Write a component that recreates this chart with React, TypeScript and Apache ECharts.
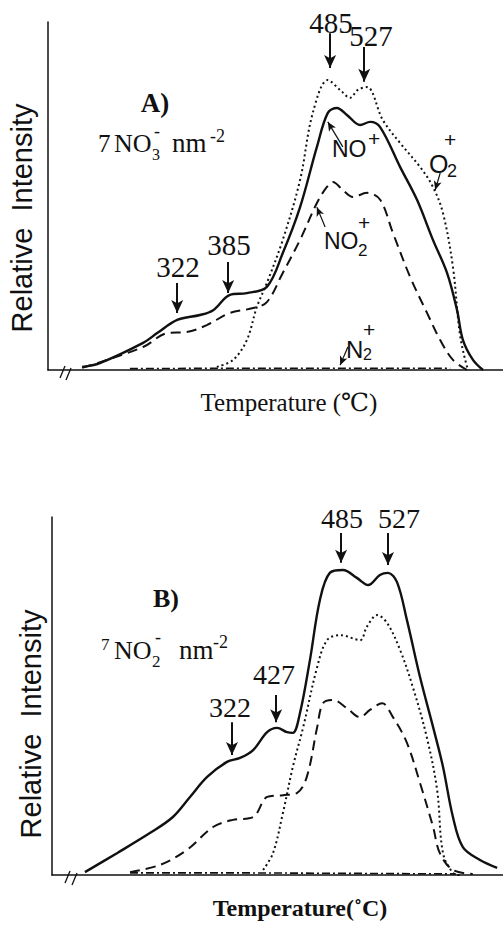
import React, { useEffect, useRef } from "react";
import * as echarts from "echarts";

// Panel A (7 NO3- nm-2): x = relative temperature position (0-100), y = relative intensity (0-100)
const aNO = [[7.5,0.9],[11.4,2.0],[20.9,7.8],[24.0,10.6],[28.4,14.4],[33.4,15.8],[36.3,17.2],[40.0,21.6],[43.7,22.1],[48.1,23.9],[51.6,33.6],[55.4,46.8],[59.1,64.1],[61.5,73.9],[63.5,75.3],[65.7,73.3],[68.6,70.4],[70.8,71.3],[73.0,69.8],[77.4,58.3],[81.1,48.9],[84.6,37.4],[87.7,27.9],[89.9,17.2],[91.2,8.6],[93.4,2.9],[95.6,0]];
const aNO2 = [[7.5,0.6],[20.9,6.6],[26.2,10.6],[30.5,10.9],[34.9,12.9],[40.0,16.4],[45.1,17.8],[48.1,19.5],[51.6,27.9],[55.4,37.4],[59.1,48.0],[61.3,52.6],[62.6,54.0],[64.8,51.7],[67.0,49.7],[70.1,50.9],[73.0,48.9],[75.8,39.4],[79.6,26.7],[83.3,16.4],[86.2,8.6],[89.0,2.9],[92.1,0]];
const aO2 = [[37.1,0.9],[40.7,2.9],[43.7,8.6],[45.9,18.1],[48.1,25.0],[51.6,37.4],[55.4,54.6],[58.2,73.9],[61.5,83.3],[64.2,80.5],[66.4,78.2],[68.1,80.5],[70.1,81.3],[73.6,71.8],[77.4,65.2],[81.8,58.3],[84.6,52.6],[86.8,45.1],[89.0,29.6],[90.5,10.6],[92.1,0.9],[92.7,0]];
const aN2 = [[18.0,0.4],[40.0,0.5],[60.0,0.5],[88.4,0.5]];

// Panel B (7 NO2- nm-2)
const bNO = [[7.3,0.8],[14.4,6.1],[21.7,11.7],[26.8,16.2],[30.6,21.8],[34.4,27.4],[38.8,31.6],[41.7,32.7],[44.6,34.9],[47.7,39.9],[49.9,41.1],[52.1,39.9],[53.4,39.7],[55.0,45.3],[57.2,60.1],[59.4,76.8],[61.6,84.4],[64.5,85.2],[67.6,83.0],[70.1,81.0],[72.7,83.8],[74.5,84.4],[76.5,81.8],[78.7,71.2],[81.6,55.3],[84.5,41.3],[86.7,30.2],[88.9,16.2],[91.1,7.8],[94.9,4.2],[98.7,2.0]];
const bNO2 = [[17.3,0.8],[23.9,2.8],[29.9,7.0],[35.7,13.4],[40.1,15.4],[44.6,16.2],[47.7,21.8],[51.2,22.3],[54.3,22.9],[56.5,27.4],[58.8,41.3],[60.1,48.0],[62.3,48.9],[65.4,46.6],[68.3,44.1],[70.5,46.1],[73.2,48.0],[75.6,44.1],[78.7,36.9],[81.6,25.7],[84.5,13.4],[86.0,6.1],[88.9,1.4],[93.3,0.3]];
const bO2 = [[46.8,1.4],[49.0,6.1],[51.2,17.3],[53.4,30.2],[55.7,41.3],[58.8,58.1],[61.0,65.6],[63.9,67.0],[68.3,65.6],[69.8,69.3],[72.1,72.6],[74.3,70.4],[77.2,62.8],[80.0,52.5],[83.1,38.5],[85.4,23.7],[86.7,6.1],[88.9,0.6],[90.5,0]];
const bN2 = [[17.3,0.6],[40.0,0.6],[60.0,0.5],[89.6,0.3]];

// Peak arrows: [x, yStart, yEnd]
const peakArrowsA = [[62.0,96.8,86.8],[69.5,92.8,82.8],[28.4,25.0,16.4],[39.6,31.0,22.1]];
const peakArrowsB = [[64.1,95.5,87.2],[74.5,95.5,86.6],[49.7,50.3,42.7],[39.9,42.7,33.5]];
// Species label pointer arrows: [x1, y1, x2, y2]
const labelArrowsA = [[64.8,64.1,61.5,71.3],[86.2,56.6,85.1,51.7],[60.9,41.1,59.1,46.8],[65.9,6.6,64.2,1.4]];

const peakLabelsA = ["485", "527", "322", "385"];
const peakLabelsB = ["485", "527", "427", "322"];

const SERIF = "'Liberation Serif', 'DejaVu Serif', serif";
const SANS = "'Liberation Sans', Arial, sans-serif";
const INK = "#111";

function txt(text: string, x: number, baseline: number, size: number, family = SERIF, extra: any = {}) {
  return {
    type: "text",
    x,
    y: baseline - size * 0.33,
    style: {
      text,
      fill: INK,
      font: `${extra.weight || "normal"} ${size}px ${family}`,
      align: extra.align || "left",
      verticalAlign: "middle",
    },
  };
}

function lineSeries(data: number[][], idx: number, type: any, width: number, extra: any = {}) {
  return {
    type: "line",
    data,
    xAxisIndex: idx,
    yAxisIndex: idx,
    smooth: 0.35,
    showSymbol: false,
    symbol: "none",
    silent: true,
    lineStyle: { color: INK, width, type },
    ...extra,
  };
}

function arrowMarks(peaks: number[][], labels: number[][] = []) {
  const data: any[] = [];
  peaks.forEach(([x, y1, y2]) => {
    data.push([{ coord: [x, y1], symbol: "none" }, { coord: [x, y2], symbol: "arrow", symbolSize: [9, 13] }]);
  });
  labels.forEach(([x1, y1, x2, y2]) => {
    data.push([
      { coord: [x1, y1], symbol: "none", lineStyle: { width: 1.2 } },
      { coord: [x2, y2], symbol: "arrow", symbolSize: [6, 9] },
    ]);
  });
  return {
    silent: true,
    symbol: ["none", "arrow"],
    label: { show: false },
    lineStyle: { color: INK, width: 2, type: "solid" },
    itemStyle: { color: INK },
    emphasis: { disabled: true },
    data,
  };
}

export default function App() {
  const ref = useRef<HTMLDivElement>(null);
  useEffect(() => {
    if (!ref.current) return;
    const chart = echarts.init(ref.current, undefined, { renderer: "svg" });
    const axisCommon = {
      type: "value",
      min: 0,
      max: 100,
      axisLine: { show: true, onZero: false, lineStyle: { color: INK, width: 1.5 } },
      axisTick: { show: false },
      axisLabel: { show: false },
      splitLine: { show: false },
    };
    const vLabel = (x: number, y: number) => ({
      type: "text",
      x,
      y,
      rotation: Math.PI / 2,
      style: { text: "Relative  Intensity", fill: INK, font: `normal 29px ${SANS}`, align: "center", verticalAlign: "middle" },
    });
    const graphic: any[] = [
      // Panel A texts
      txt(peakLabelsA[0], 331, 33, 29, SERIF, { align: "center" }),
      txt(peakLabelsA[1], 371, 46, 29, SERIF, { align: "center" }),
      txt(peakLabelsA[2], 178, 277, 29, SERIF, { align: "center" }),
      txt(peakLabelsA[3], 229, 255, 29, SERIF, { align: "center" }),
      txt("A)", 155, 112, 27, SERIF, { align: "center", weight: "bold" }),
      txt("7", 98, 152, 25),
      txt("NO", 114, 152, 26),
      txt("3", 152, 160, 16),
      txt("-", 154, 137, 18),
      txt("nm", 172, 152, 27),
      txt("-2", 210, 142, 18),
      txt("NO", 332, 157, 23, SANS),
      txt("+", 368, 145, 21, SANS),
      txt("O", 429, 172, 25, SANS),
      txt("2", 447, 177, 18, SANS),
      txt("+", 444, 146, 21, SANS),
      txt("NO", 324, 249, 23, SANS),
      txt("2", 358, 256, 17, SANS),
      txt("+", 358, 229, 21, SANS),
      txt("N", 346, 357, 24, SANS),
      txt("2", 363, 360, 16, SANS),
      txt("+", 363, 336, 21, SANS),
      vLabel(22, 218),
      txt("Temperature (℃)", 289, 411, 25, SERIF, { align: "center" }),
      { type: "line", shape: { x1: 60, y1: 378, x2: 65, y2: 366 }, style: { stroke: INK, lineWidth: 1.3 } },
      { type: "line", shape: { x1: 66, y1: 380, x2: 71, y2: 368 }, style: { stroke: INK, lineWidth: 1.3 } },
      // Panel B texts
      txt(peakLabelsB[0], 342, 528, 28, SERIF, { align: "center" }),
      txt(peakLabelsB[1], 399, 528, 28, SERIF, { align: "center" }),
      txt(peakLabelsB[2], 274, 684, 28, SERIF, { align: "center" }),
      txt(peakLabelsB[3], 230, 717, 28, SERIF, { align: "center" }),
      txt("B)", 166, 607, 26, SERIF, { align: "center", weight: "bold" }),
      txt("7", 101, 650, 17),
      txt("NO", 114, 659, 26),
      txt("2", 152, 667, 17),
      txt("-", 155, 643, 18),
      txt("nm", 179, 659, 27),
      txt("-2", 213, 648, 18),
      vLabel(31, 724),
      txt("Temperature(˚C)", 300, 916, 24, SERIF, { align: "center", weight: "bold" }),
      { type: "line", shape: { x1: 65, y1: 883, x2: 70, y2: 871 }, style: { stroke: INK, lineWidth: 1.3 } },
      { type: "line", shape: { x1: 72, y1: 885, x2: 77, y2: 873 }, style: { stroke: INK, lineWidth: 1.3 } },
    ];
    chart.setOption({
      animation: false,
      backgroundColor: "#fff",
      grid: [
        { left: 48, top: 22, width: 455, height: 348 },
        { left: 52, top: 517, width: 451, height: 358 },
      ],
      xAxis: [
        { ...axisCommon, gridIndex: 0 },
        { ...axisCommon, gridIndex: 1 },
      ],
      yAxis: [
        { ...axisCommon, gridIndex: 0 },
        { ...axisCommon, gridIndex: 1 },
      ],
      series: [
        lineSeries(aNO, 0, "solid", 2.4),
        lineSeries(aNO2, 0, [10, 6], 2),
        lineSeries(aO2, 0, [2, 3], 2),
        lineSeries(aN2, 0, [8, 3, 2, 3], 1.6, { smooth: false, markLine: arrowMarks(peakArrowsA, labelArrowsA) }),
        lineSeries(bNO, 1, "solid", 2.4),
        lineSeries(bNO2, 1, [10, 6], 2),
        lineSeries(bO2, 1, [2, 3], 2),
        lineSeries(bN2, 1, [8, 3, 2, 3], 1.6, { smooth: false, markLine: arrowMarks(peakArrowsB) }),
      ],
      graphic,
    });
    return () => chart.dispose();
  }, []);
  return <div ref={ref} style={{ position: "absolute", left: 0, top: 0, width: 503, height: 925, background: "#fff" }} />;
}
